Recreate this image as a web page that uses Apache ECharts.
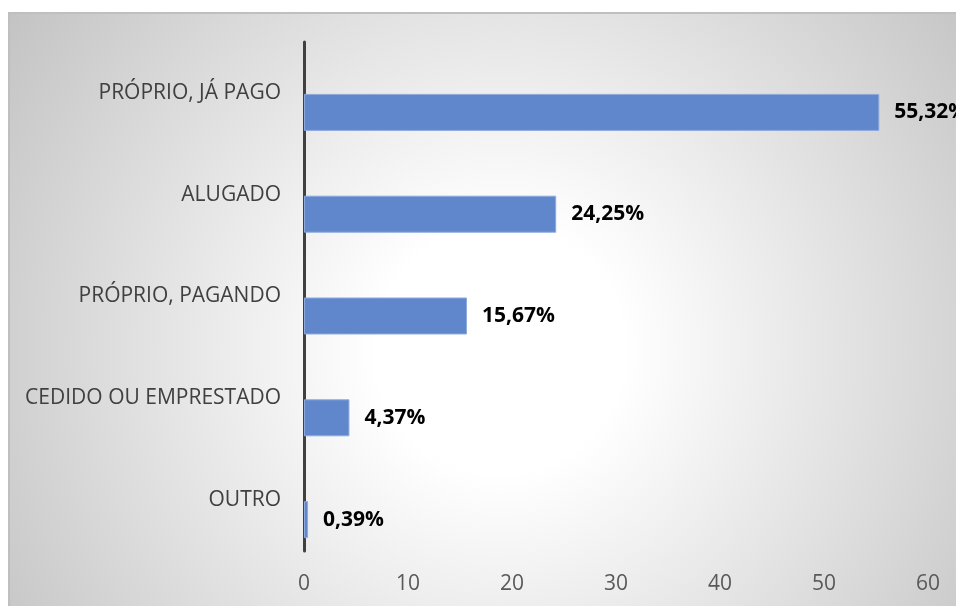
<!DOCTYPE html>
<html>
<head>
<meta charset="utf-8">
<script src="https://cdn.jsdelivr.net/npm/echarts@6/dist/echarts.min.js"></script>
<style>
html,body{margin:0;padding:0;background:#fff;}
#chart{width:956px;height:606px;}
</style>
</head>
<body>
<div id="chart"></div>
<script>
const categories = ['PRÓPRIO, JÁ PAGO', 'ALUGADO', 'PRÓPRIO, PAGANDO', 'CEDIDO OU EMPRESTADO', 'OUTRO'];
const values = [55.32, 24.25, 15.67, 4.37, 0.39];
const xMin = 0, xMax = 60, xStep = 10;

const chart = echarts.init(document.getElementById('chart'), null, {renderer: 'canvas'});
const FONT = '"Open Sans", sans-serif';

chart.setOption({
  backgroundColor: '#ffffff',
  animation: false,
  graphic: [{
    type: 'rect',
    z: -10,
    silent: true,
    shape: {x: 9, y: 13, width: 1000, height: 650},
    style: {
      fill: {
        type: 'radial', global: true, x: 500, y: 350, r: 620,
        colorStops: [
          {offset: 0, color: '#ffffff'},
          {offset: 0.2, color: '#ffffff'},
          {offset: 0.95, color: '#c4c4c4'},
          {offset: 1, color: '#c2c2c2'}
        ]
      },
      stroke: '#bfbfbf',
      lineWidth: 2
    }
  }],
  grid: {left: 304, right: 28, top: 42, bottom: 55, containLabel: false},
  xAxis: {
    type: 'value', min: xMin, max: xMax, interval: xStep,
    splitLine: {show: false},
    axisLine: {show: false},
    axisTick: {show: false},
    axisLabel: {fontSize: 21, color: '#595959', fontFamily: FONT, margin: 23}
  },
  yAxis: {
    type: 'category', inverse: true, data: categories,
    axisLine: {show: true, lineStyle: {color: '#404040', width: 3}},
    axisTick: {show: false},
    axisLabel: {fontSize: 21, color: '#404040', fontFamily: FONT, margin: 23}
  },
  series: [
    {type: 'bar', name: 'gap', data: [], barWidth: 37, barGap: '5.4%', silent: true},
    {
      type: 'bar', name: 'valor', data: values, barWidth: 37, barGap: '5.4%',
      itemStyle: {color: '#6087cc', borderColor: '#8eaadc', borderWidth: 1},
      label: {
        show: true, position: 'right', distance: 15,
        fontSize: 21, fontWeight: 'bold', color: '#000000', fontFamily: FONT,
        formatter: p => p.value.toFixed(2).replace('.', ',') + '%'
      }
    }
  ]
});
</script>
</body>
</html>
